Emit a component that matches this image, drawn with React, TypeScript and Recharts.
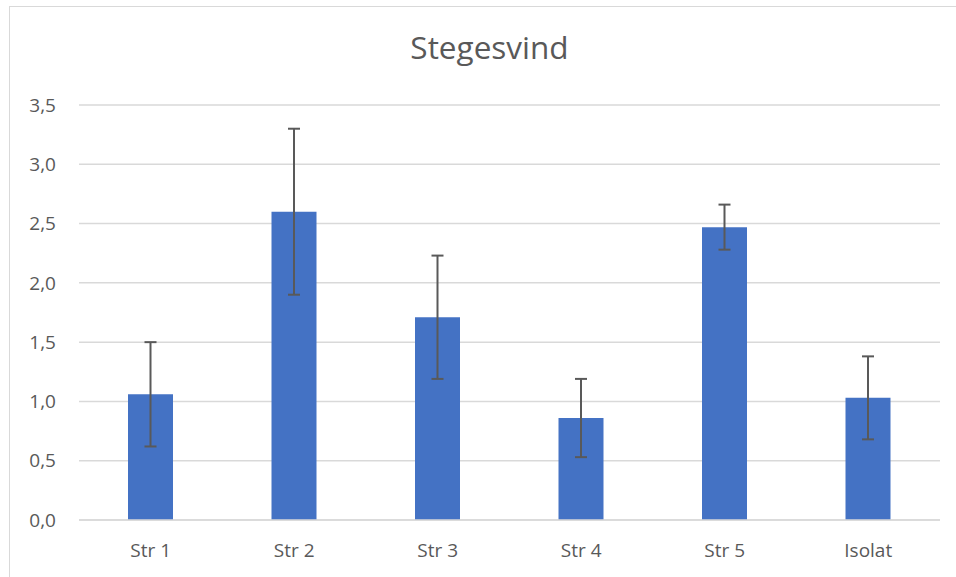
import React from 'react';
import { BarChart, Bar, XAxis, YAxis, CartesianGrid, ErrorBar } from 'recharts';

const categories = ['Str 1', 'Str 2', 'Str 3', 'Str 4', 'Str 5', 'Isolat'];
const values = [1.06, 2.6, 1.71, 0.86, 2.47, 1.03];
const errors = [0.44, 0.7, 0.52, 0.33, 0.19, 0.35];
const yTicks = [0, 0.5, 1, 1.5, 2, 2.5, 3, 3.5];

const data = categories.map((name, i) => ({ name, value: values[i], err: errors[i] }));

const FONT = '"Open Sans", sans-serif';
const TEXT = '#595959';

export default function App() {
  return (
    <div style={{ position: 'absolute', left: 0, top: 0, width: 956, height: 577, overflow: 'hidden', background: '#fff', fontFamily: FONT }}>
      <div style={{ position: 'absolute', left: 9, top: 6, width: 980, height: 600, border: '1.5px solid #d9d9d9', boxSizing: 'border-box' }} />
      <div style={{ position: 'absolute', left: 0, width: 979, top: 25, textAlign: 'center', fontSize: 31.5, color: TEXT, lineHeight: '44px' }}>
        Stegesvind
      </div>
      <div style={{ position: 'absolute', left: 0, top: 0 }}>
        <BarChart width={956} height={577} data={data} margin={{ top: 105, right: 16, bottom: 27, left: 0 }}>
          <CartesianGrid vertical={false} stroke="#d9d9d9" strokeWidth={1.5} />
          <XAxis
            dataKey="name"
            height={30}
            axisLine={{ stroke: '#d9d9d9', strokeWidth: 1.5 }}
            tickLine={false}
            tickSize={0}
            tickMargin={24}
            tick={{ fill: TEXT, fontSize: 19, fontFamily: FONT }}
          />
          <YAxis
            width={79}
            domain={[0, 3.5]}
            ticks={yTicks}
            axisLine={false}
            tickLine={false}
            tickSize={0}
            tickMargin={23}
            tickFormatter={(v: number) => v.toFixed(1).replace('.', ',')}
            tick={{ fill: TEXT, fontSize: 19, fontFamily: FONT }}
          />
          <Bar dataKey="value" fill="#4472C4" barSize={45} isAnimationActive={false}>
            <ErrorBar dataKey="err" width={6} stroke="#595959" strokeWidth={2} direction="y" />
          </Bar>
        </BarChart>
      </div>
    </div>
  );
}
